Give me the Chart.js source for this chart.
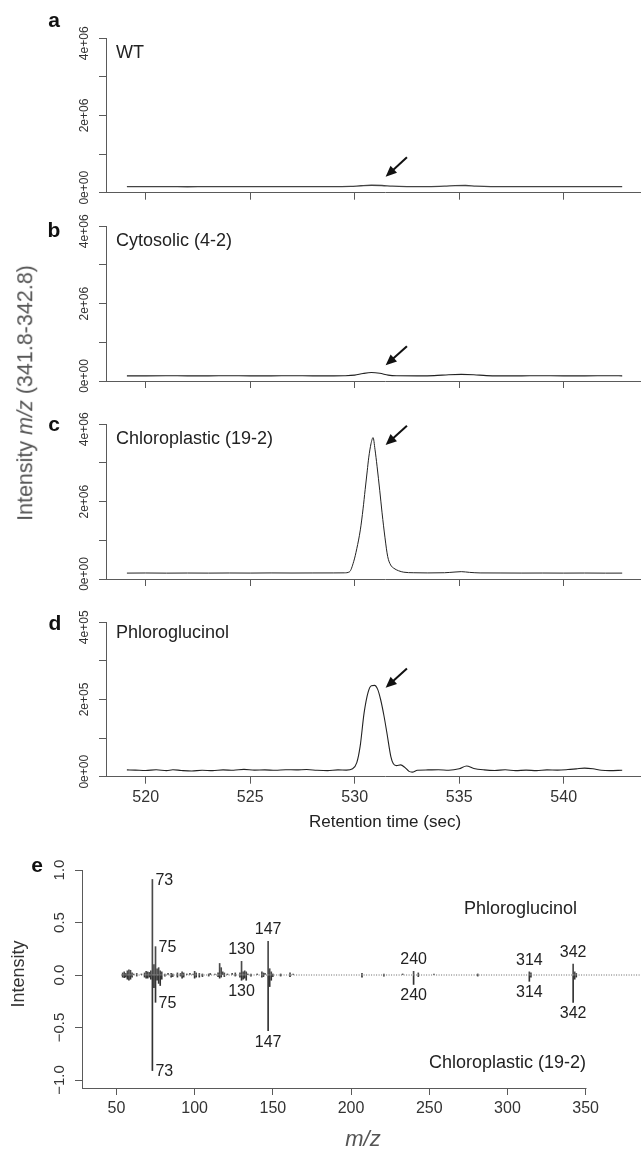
<!DOCTYPE html>
<html><head><meta charset="utf-8">
<script src="https://cdn.jsdelivr.net/npm/chart.js@4.4.1/dist/chart.umd.min.js"></script>
<style>
html,body{margin:0;padding:0;background:#fff;overflow:hidden;width:641px;height:1149px;}
#wrap{position:relative;width:641px;height:1149px;overflow:hidden;font-family:"Liberation Sans",Arial,sans-serif;}
canvas{position:absolute;left:0;}
.lbl{position:absolute;transform:translate(-50%,-50%);white-space:nowrap;line-height:1;}
.letter{font-weight:bold;font-size:21px;color:#111;}
.rot{transform:translate(-50%,-50%) rotate(-90deg);}
</style></head><body><div id="wrap">
<canvas id="ca"></canvas>
<canvas id="cb"></canvas>
<canvas id="cc"></canvas>
<canvas id="cd"></canvas>
<canvas id="ce"></canvas>
<div class="lbl letter" style="left:54px;top:19px">a</div>
<div class="lbl letter" style="left:54px;top:229px">b</div>
<div class="lbl letter" style="left:54px;top:423px">c</div>
<div class="lbl letter" style="left:55px;top:622px">d</div>
<div class="lbl letter" style="left:37px;top:864px">e</div>
<div class="lbl rot" style="left:26px;top:393px;font-size:21.5px;color:#555">Intensity <i>m/z</i> (341.8-342.8)</div>
<div class="lbl rot" style="left:18px;top:974px;font-size:18px;color:#333">Intensity</div>
</div>
<script>
// ---------- chromatogram data (retention time in s, intensity) ----------
const rtA  = [519.1,520,521,522,523,524,525,526,527,528,529,529.8,530.3,530.8,531.3,531.8,532.5,533.5,534.3,534.8,535.3,535.8,536.5,537.5,538.5,539.5,540.5,541.5,542.8];
const intA = [30000,28000,31000,27000,30000,29000,31000,28000,30000,29000,31000,36000,55000,68000,62000,42000,32000,30000,42000,58000,62000,46000,33000,30000,29000,31000,28000,30000,29000];

const rtB  = [519.1,520,521,522,523,524,525,526,527,528,529,529.5,530,530.4,530.8,531.2,531.6,532,533,533.8,534.5,535.1,535.7,536.3,537,538,539,540,541,542,542.8];
const intB = [5000,5000,6000,5000,5000,6000,5000,5000,6000,5000,5000,8000,25000,70000,95000,75000,25000,8000,5000,10000,35000,45000,35000,10000,5000,5000,6000,5000,5000,6000,5000];

const rtC  = [519.1,520,521,522,523,524,525,526,527,528,529,529.5,529.75,529.95,530.1,530.27,530.4,530.5,530.6,530.67,530.78,530.88,530.97,531.07,531.2,531.31,531.45,531.58,531.72,531.87,532.1,532.35,532.8,533.5,534.3,534.8,535.1,535.5,536,537,538,539,540,541,542,542.8];
const intC = [25000,28000,24000,27000,25000,28000,26000,30000,27000,29000,30000,32000,60000,340000,700000,1220000,1800000,2330000,2850000,3210000,3600000,3770000,3450000,2980000,2300000,1690000,1000000,480000,250000,160000,90000,50000,35000,30000,35000,55000,65000,45000,30000,28000,26000,27000,25000,27000,24000,25000];

const rtD  = [519.1,519.5,520,520.5,521,521.3,521.7,522.2,522.7,523.2,523.7,524.2,524.7,525.2,525.7,526.2,526.7,527.2,527.7,528.2,528.7,529.2,529.6,529.9,530.1,530.26,530.45,530.64,530.8,530.95,531.1,531.24,531.4,531.54,531.73,531.85,532.0,532.2,532.4,532.6,532.75,533,533.5,534,534.5,535,535.35,535.7,536.2,536.7,537.2,537.7,538.2,538.7,539.2,539.7,540.2,540.6,541,541.4,541.8,542.2,542.8];
const intD = [5000,4500,3500,5500,3000,5500,3500,2000,4000,3000,5000,4000,6500,4500,5000,4000,5500,5000,6000,4000,3000,5000,4500,8000,25000,70000,163000,220000,238000,239000,228000,200000,155000,108000,42000,22000,17000,19000,12000,1000,-1000,4000,5000,5500,4000,8000,16000,9000,5000,3500,5500,3000,4500,3000,5000,4500,6000,8000,10000,8000,4000,3000,4000];

// tick labels
const yTickValsE6 = [0, 2e6, 4e6];
const yTickTextE6 = ['0e+00','2e+06','4e+06'];
const yTickValsE5 = [0, 2e5, 4e5];
const yTickTextE5 = ['0e+00','2e+05','4e+05'];
const panelNames = ['WT','Cytosolic (4-2)','Chloroplastic (19-2)','Phloroglucinol'];
// arrow annotations (data coords): tip and tail
const arrowTipX = [531.48, 531.48, 531.48, 531.48];
const arrowTipY = [305000, 296000, 3565000, 232600];
const arrowTailX = [532.5, 532.5, 532.5, 532.5];
const arrowTailY = [842000, 823000, 4100000, 285600];

// ---------- mass spectrum data ----------
const upperMz  = [54,55,56,57,58,59,60,61,63,66,68,69,70,71,72,73,74,75,76,77,78,79,81,83,85,86,89,91,92,93,95,97,99,100,101,103,105,109,110,113,115,116,117,118,119,121,124,126,129,130,131,132,133,134,136,140,143,144,145,147,148,149,150,155,161,163,207,221,233,240,243,253,281,314,315,342,343,344];
const upperInt = [0.02,0.03,0.015,0.04,0.05,0.045,0.02,0.01,0.015,0.01,0.02,0.035,0.03,0.025,0.04,0.91,0.10,0.27,0.06,0.07,0.04,0.03,0.01,0.015,0.015,0.01,0.02,0.015,0.03,0.02,0.01,0.015,0.01,0.035,0.02,0.015,0.01,0.01,0.015,0.01,0.02,0.11,0.07,0.03,0.02,0.01,0.015,0.02,0.02,0.13,0.03,0.04,0.03,0.01,0.01,0.01,0.03,0.02,0.015,0.32,0.06,0.03,0.01,0.01,0.02,0.01,0.015,0.01,0.01,0.035,0.02,0.01,0.01,0.03,0.02,0.105,0.03,0.015];
const lowerMz  = [54,55,56,57,58,59,60,63,68,69,70,71,72,73,74,75,76,77,78,79,81,85,86,89,91,92,93,100,101,103,105,109,115,116,117,119,126,129,130,131,132,133,136,143,144,147,148,149,150,155,161,207,221,240,243,281,314,315,342,343,344];
const lowerInt = [-0.02,-0.025,-0.02,-0.04,-0.05,-0.04,-0.02,-0.01,-0.02,-0.03,-0.03,-0.02,-0.04,-0.91,-0.12,-0.26,-0.05,-0.08,-0.10,-0.04,-0.01,-0.02,-0.015,-0.02,-0.01,-0.03,-0.02,-0.03,-0.02,-0.02,-0.015,-0.01,-0.015,-0.03,-0.02,-0.015,-0.01,-0.02,-0.05,-0.04,-0.03,-0.05,-0.01,-0.02,-0.015,-0.53,-0.11,-0.05,-0.015,-0.01,-0.015,-0.02,-0.01,-0.09,-0.015,-0.01,-0.06,-0.02,-0.26,-0.04,-0.02];
const labelMz = [73,75,130,147,240,314,342];
const sideLabelMz = [73,75];
const baseLineMz = [53, 390];
const specTickVals = [-1,-0.5,0,0.5,1];
const specTickText = ['\u22121.0','\u22120.5','0.0','0.5','1.0'];

// ---------- drawing ----------
const FONT = '"Liberation Sans", Arial, sans-serif';
const AXIS = '#5a5a5a';
const TXT = '#222';

function sizeCanvas(id, top, w, h){
  const c = document.getElementById(id);
  c.width = w; c.height = h;
  c.style.top = top + 'px'; c.style.width = w + 'px'; c.style.height = h + 'px';
  return c;
}

function drawRotLabels(ctx, ys, x, vals, texts, font){
  ctx.font = font; ctx.fillStyle = '#333'; ctx.textAlign = 'center'; ctx.textBaseline = 'middle';
  vals.forEach((v,i)=>{
    const y = ys.getPixelForValue(v);
    ctx.save(); ctx.translate(x, y); ctx.rotate(-Math.PI/2); ctx.fillText(texts[i], 0, 0); ctx.restore();
  });
}

function drawArrow(ctx, x1, y1, x2, y2){
  const ang = Math.atan2(y2 - y1, x2 - x1);
  const hl = 11, hw = 4.8;
  const bx = x2 - hl*Math.cos(ang), by = y2 - hl*Math.sin(ang);
  ctx.strokeStyle = '#111'; ctx.fillStyle = '#111'; ctx.lineWidth = 2;
  ctx.beginPath(); ctx.moveTo(x1, y1); ctx.lineTo(bx + 2*Math.cos(ang), by + 2*Math.sin(ang)); ctx.stroke();
  ctx.beginPath();
  ctx.moveTo(x2, y2);
  ctx.lineTo(bx + hw*Math.sin(ang), by - hw*Math.cos(ang));
  ctx.lineTo(bx - hw*Math.sin(ang), by + hw*Math.cos(ang));
  ctx.closePath(); ctx.fill();
}

function chrom(i, id, top, padTop, height, xH, times, vals, yMin, yMax, yStep, tickVals, tickText, showX, nameDy, lineColor, lineW){
  const W = 664;
  const c = sizeCanvas(id, top, W, height);
  const overlay = {
    id: 'ov' + id,
    afterDraw(chart){
      const ctx = chart.ctx, ca = chart.chartArea, xs = chart.scales.x, ys = chart.scales.y;
      ctx.save();
      drawRotLabels(ctx, ys, ca.left - 21, tickVals, tickText, '12px ' + FONT);
      ctx.font = '18px ' + FONT; ctx.fillStyle = TXT; ctx.textAlign = 'left'; ctx.textBaseline = 'middle';
      ctx.fillText(panelNames[i], ca.left + 10, ca.top + nameDy);
      drawArrow(ctx, xs.getPixelForValue(arrowTailX[i]), ys.getPixelForValue(arrowTailY[i]),
                     xs.getPixelForValue(arrowTipX[i]), ys.getPixelForValue(arrowTipY[i]));
      if (showX){
        ctx.font = '17px ' + FONT; ctx.fillStyle = TXT; ctx.textAlign = 'center'; ctx.textBaseline = 'middle';
        ctx.fillText('Retention time (sec)', (ca.left + ca.right)/2, ca.bottom + 45.5);
      }
      ctx.restore();
    }
  };
  return new Chart(c, {
    type: 'line',
    data: { datasets: [{ data: times.map((t,k)=>({x:t, y:vals[k]})), borderColor: lineColor, borderWidth: lineW,
      pointRadius: 0, cubicInterpolationMode: 'monotone', fill: false }] },
    options: {
      responsive: false, animation: false, events: [], devicePixelRatio: 1,
      layout: { padding: { top: padTop, left: 0, right: 0, bottom: 0 } },
      plugins: { legend: { display: false }, tooltip: { enabled: false } },
      scales: {
        x: { type: 'linear', min: 518.1, max: 544.8, afterFit: s => { s.height = xH; },
          ticks: { display: showX, stepSize: 5, includeBounds: false, color: '#333', font: { family: FONT, size: 16 }, padding: 4, maxRotation: 0, autoSkip: false },
          grid: { drawOnChartArea: false, drawTicks: true, tickLength: 7, color: AXIS },
          border: { display: true, color: AXIS, width: 1 } },
        y: { type: 'linear', min: yMin, max: yMax, afterFit: s => { s.width = 106; },
          ticks: { display: false, stepSize: yStep, includeBounds: false },
          grid: { drawOnChartArea: false, drawTicks: true, tickLength: 7, color: AXIS },
          border: { display: true, color: AXIS, width: 1 } }
      }
    },
    plugins: [overlay]
  });
}

chrom(0, 'ca', 0,   38.3, 209, 16.3, rtA, intA, -138000, 4138000, 1e6, yTickValsE6, yTickTextE6, false, 14.5, '#444', 1.3);
chrom(1, 'cb', 210, 16.3, 187, 16.0, rtB, intB, -138000, 4138000, 1e6, yTickValsE6, yTickTextE6, false, 14.7, '#222', 1.1);
chrom(2, 'cc', 408, 16.3, 191, 20.0, rtC, intC, -138000, 4138000, 1e6, yTickValsE6, yTickTextE6, false, 15.0, '#222', 1.0);
chrom(3, 'cd', 602, 20.3, 233, 58.3, rtD, intD, -13800, 413800, 1e5, yTickValsE5, yTickTextE5, true, 11.0, '#222', 1.1);

// ---------- panel e ----------
(function(){
  const W = 644;
  const c = sizeCanvas('ce', 850, W, 299);
  const upMap = {}; upperMz.forEach((m,k)=>{ upMap[m] = upperInt[k]; });
  const loMap = {}; lowerMz.forEach((m,k)=>{ loMap[m] = lowerInt[k]; });
  const overlay = {
    id: 'ove',
    afterDraw(chart){
      const ctx = chart.ctx, ca = chart.chartArea, xs = chart.scales.x, ys = chart.scales.y;
      ctx.save();
      ctx.strokeStyle = AXIS; ctx.lineWidth = 1;
      ctx.beginPath(); ctx.moveTo(ca.left, Math.round(ca.bottom) + 0.5); ctx.lineTo(Math.round(xs.getPixelForValue(350)) + 0.5, Math.round(ca.bottom) + 0.5); ctx.stroke();
      drawRotLabels(ctx, ys, ca.left - 22, specTickVals, specTickText, '15px ' + FONT);
      ctx.font = '16px ' + FONT; ctx.fillStyle = TXT; ctx.textBaseline = 'middle';
      labelMz.forEach(m => {
        const x = xs.getPixelForValue(m);
        const yt = ys.getPixelForValue(upMap[m]);
        const yb = ys.getPixelForValue(loMap[m]);
        if (sideLabelMz.includes(m)) {
          ctx.textAlign = 'left';
          ctx.fillText(String(m), x + 3, yt + 1);
          ctx.fillText(String(m), x + 3, yb + 1);
        } else {
          ctx.textAlign = 'center';
          ctx.fillText(String(m), x, yt - 11.5);
          ctx.fillText(String(m), x, yb + 11.5);
        }
      });
      ctx.font = '18px ' + FONT; ctx.textAlign = 'right';
      ctx.fillText('Phloroglucinol', ca.left + 495, ca.top + 39);
      ctx.fillText('Chloroplastic (19-2)', ca.left + 504, ca.top + 193);
      ctx.font = 'italic 22px ' + FONT; ctx.fillStyle = '#555'; ctx.textAlign = 'center';
      ctx.fillText('m/z', (ca.left + ca.right)/2, ca.bottom + 52);
      ctx.restore();
    }
  };
  new Chart(c, {
    type: 'bar',
    data: { datasets: [
      { type: 'line', data: baseLineMz.map(m=>({x:m, y:0})), borderColor: '#666', borderWidth: 1, borderDash: [1,1.5], pointRadius: 0, order: 3 },
      { data: upperMz.map((m,k)=>({x:m, y:upperInt[k]})), backgroundColor: '#4a4a4a', barThickness: 1, grouped: false, order: 1 },
      { data: lowerMz.map((m,k)=>({x:m, y:lowerInt[k]})), backgroundColor: '#333', barThickness: 1, grouped: false, order: 2 }
    ] },
    options: {
      responsive: false, animation: false, events: [], devicePixelRatio: 1,
      layout: { padding: { top: 20, left: 0, right: 0, bottom: 0 } },
      plugins: { legend: { display: false }, tooltip: { enabled: false } },
      scales: {
        x: { type: 'linear', offset: false, min: 28, max: 387.3, afterFit: s => { s.height = 61; },
          ticks: { stepSize: 50, includeBounds: false, color: '#333', font: { family: FONT, size: 16 }, padding: 4, maxRotation: 0, autoSkip: false },
          grid: { offset: false, drawOnChartArea: false, drawTicks: true, tickLength: 7, color: AXIS },
          border: { display: false } },
        y: { type: 'linear', min: -1.076, max: 1.0, afterFit: s => { s.width = 82; },
          ticks: { display: false, stepSize: 0.5, includeBounds: false },
          grid: { drawOnChartArea: false, drawTicks: true, tickLength: 7, color: AXIS },
          border: { display: true, color: AXIS, width: 1 } }
      }
    },
    plugins: [overlay]
  });
})();
</script>
</body></html>
